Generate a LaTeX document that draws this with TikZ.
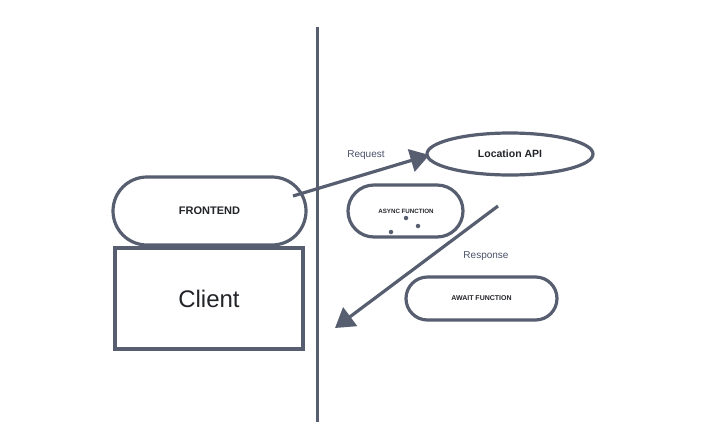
\documentclass[tikz,border=0pt]{standalone}
\usepackage{fontspec}
\setmainfont{Liberation Sans}
\usetikzlibrary{arrows.meta,shapes.geometric}
\definecolor{ink}{HTML}{575E70}
\definecolor{txt}{HTML}{222428}
\definecolor{lbl}{HTML}{4A5068}
\tikzset{
  shapeline/.style={draw=ink, line width=3.2pt},
  pill/.style={shapeline, rounded corners=#1, inner sep=0pt, text=txt, font=\bfseries},
  arr/.style={draw=ink, line width=3.2pt, -{Triangle[length=19pt,width=23pt]}},
  lab/.style={text=lbl, font=\fontsize{10}{11}\selectfont},
  dotm/.style={circle, fill=ink, inner sep=0pt, minimum size=4.5pt}
}
\begin{document}
\begin{tikzpicture}[x=1pt,y=-1pt]
\useasboundingbox (0,0) rectangle (720,424);
\coordinate (vtop) at (317,27);
\coordinate (vbot) at (317,422);
\draw[draw=ink, line width=3pt] (vtop) -- (vbot);
\node[pill=34pt, minimum width=193pt, minimum height=68pt, font=\bfseries\fontsize{11}{12}\selectfont] (front) at (209.5,211) {FRONTEND};
\node[shapeline, rectangle, minimum width=188pt, minimum height=101pt, inner sep=0pt, text=txt, font=\fontsize{24}{26}\selectfont] (client) at (209,298.5) {Client};
\node[shapeline, ellipse, minimum width=166pt, minimum height=42pt, inner sep=0pt, text=txt, font=\bfseries\fontsize{10.5}{12}\selectfont] (loc) at (510,154) {Location API};
\node[pill=26pt, minimum width=115pt, minimum height=52pt] (async) at (405.5,211) {};
\node[text=txt, font=\bfseries\fontsize{6.2}{7}\selectfont] (asynct) at (406,211) {ASYNC FUNCTION};
\node[dotm] (d1) at (406,218) {};
\node[dotm] (d2) at (418,226) {};
\node[dotm] (d3) at (391,232) {};
\node[pill=21.5pt, minimum width=151pt, minimum height=43pt, font=\bfseries\fontsize{7}{8}\selectfont] (await) at (481.5,298.5) {AWAIT FUNCTION};
\node[lab] (req) at (366,155) {Request};
\node[lab] (res) at (486,256) {Response};
\coordinate (reqs) at (293,196);
\coordinate (reqe) at ([xshift=4pt,yshift=-1pt]loc.west);
\coordinate (rese) at (335,328);
\coordinate (ress) at (498,206);
\draw[arr] (reqs) -- (reqe);
\draw[arr] (ress) -- (rese);
\end{tikzpicture}
\end{document}
